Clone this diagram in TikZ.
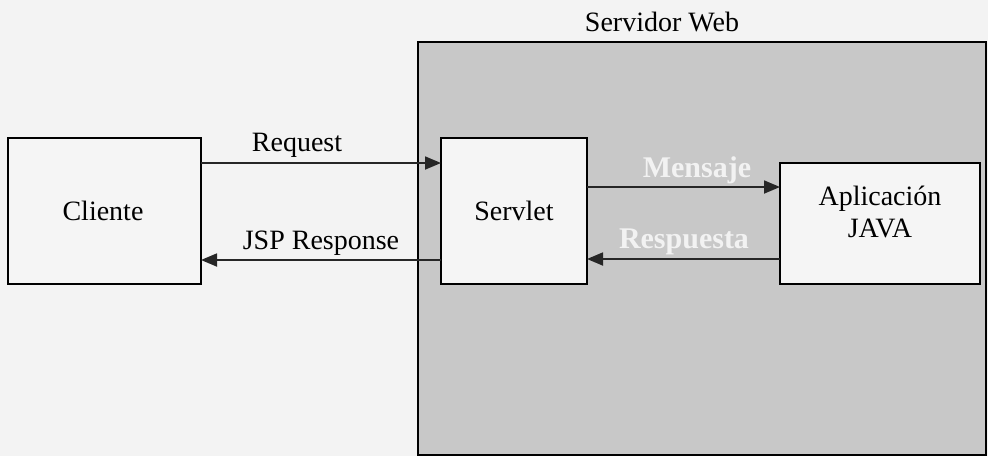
\documentclass[tikz,border=0pt]{standalone}
\usepackage{fontspec}
\setmainfont{Liberation Serif}
\usetikzlibrary{arrows.meta}
\definecolor{pagebg}{HTML}{F3F3F3}
\definecolor{servergray}{HTML}{C8C8C8}
\definecolor{boxbg}{HTML}{F5F5F5}
\tikzset{
  box/.style={draw=black, line width=1.6pt, fill=boxbg},
  conn/.style={draw=black!85, line width=1.8pt, -{Triangle[length=16pt,width=13pt]}},
  lbl/.style={font=\fontsize{28}{32}\selectfont, inner sep=0pt},
  wlbl/.style={font=\fontsize{30}{34}\selectfont\bfseries, text=white!95!black, inner sep=0pt},
}
\begin{document}
\begin{tikzpicture}[x=1pt,y=-1pt]
\useasboundingbox (0,0) rectangle (988,456);
\fill[pagebg] (0,0) rectangle (988,456);
% server
\draw[box, fill=servergray] (418,42) rectangle (986,455);
\node[lbl] (title) at (662,22) {Servidor Web};
% boxes
\draw[box] (8,138) rectangle (201,284);
\node[lbl] (cliente) at (103,211) {Cliente};
\draw[box] (441,138) rectangle (587,284);
\node[lbl] (servlet) at (514,211) {Servlet};
\draw[box] (780,163) rectangle (980,284);
\node[lbl, align=center] (app) at (880,212) {Aplicación\\JAVA};
% coordinates
\coordinate (c1) at (201,163);
\coordinate (s1) at (441,163);
\coordinate (c2) at (201,260);
\coordinate (s2) at (441,260);
\coordinate (s3) at (587,187);
\coordinate (a3) at (780,187);
\coordinate (s4) at (587,259);
\coordinate (a4) at (780,259);
\draw[conn] (c1) -- (s1);
\draw[conn] (s2) -- (c2);
\draw[conn] (s3) -- (a3);
\draw[conn] (a4) -- (s4);
\node[lbl] (req) at (297,145) {Request};
\node[lbl] (jsp) at (321,243) {JSP Response};
\node[wlbl] (msg) at (697,170) {Mensaje};
\node[wlbl] (resp) at (684,242) {Respuesta};
\end{tikzpicture}
\end{document}
